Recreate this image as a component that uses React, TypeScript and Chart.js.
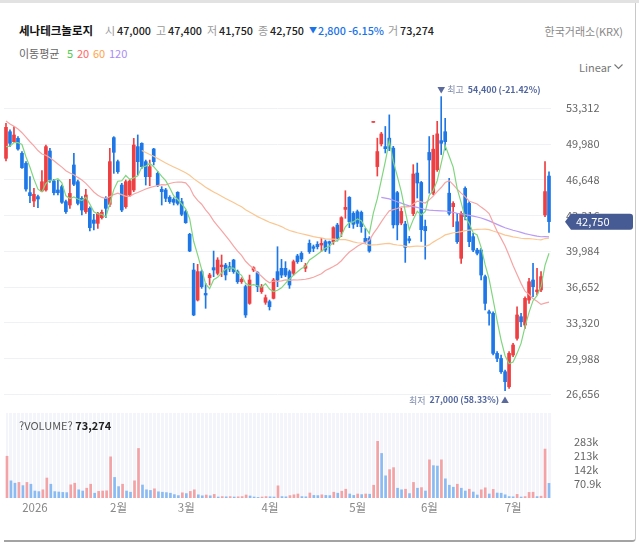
import React, { useEffect, useRef } from 'react';
import { Chart, registerables } from 'chart.js';

Chart.register(...registerables);

const FONT = '"Noto Sans CJK KR", "Noto Sans", sans-serif';

// ---- categories: trading days per month ----
const monthDays: [string, number[]][] = [
  ['2025-12', [19, 22, 23, 24, 26, 29, 30]],
  ['2026-01', [2, 5, 6, 7, 8, 9, 12, 13, 14, 15, 16, 19, 20, 21, 22, 23, 26, 27, 28, 29, 30]],
  ['2026-02', [2, 3, 4, 5, 6, 9, 10, 11, 12, 13, 19, 20, 23, 24, 25, 26, 27]],
  ['2026-03', [3, 4, 5, 6, 9, 10, 11, 12, 13, 16, 17, 18, 19, 20, 23, 24, 25, 26, 27, 30, 31]],
  ['2026-04', [1, 2, 3, 6, 7, 8, 9, 10, 13, 14, 15, 16, 17, 20, 21, 22, 23, 24, 27, 28, 29, 30]],
  ['2026-05', [4, 6, 7, 8, 11, 12, 13, 14, 15, 18, 19, 20, 21, 22, 26, 27, 28, 29]],
  ['2026-06', [1, 2, 4, 5, 8, 9, 10, 11, 12, 15, 16, 17, 18, 19, 22, 23, 24, 25, 26, 29, 30]],
  ['2026-07', [1, 2, 3, 6, 7, 8, 9, 10, 13, 14]],
];
const dates: string[] = monthDays.flatMap(([m, ds]) => ds.map((d) => `${m}-${String(d).padStart(2, '0')}`));

// ---- series ----
const opens = [
  48650, 51130, 50200, 50510, 49120, 48180, 45450, 44670, 45080, 45600,
  45700, 49330, 46540, 45700, 46010, 44610, 44300, 48030, 46470, 44920,
  43680, 43990, 42900, 42590, 43120, 44920, 44360, 50580, 48340, 46160,
  44140, 45230, 45700, 49740, 50050, 48340, 46940, 49520, 47250, 45760,
  45700, 45010, 44820, 45480, 44610, 43680, 41570, 38240, 35440, 38090,
  36060, 37520, 38460, 37930, 38550, 38700, 38550, 39170, 38090, 37150,
  36690, 35130, 38240, 37990, 36220, 35230, 35290, 35600, 38090, 38400,
  38400, 38090, 37930, 39550, 39790, 38400, 40730, 40410, 40630, 40570,
  40880, 40880, 40880, 42430, 41810, 43890, 45010, 43520, 43680, 43610,
  41190, 41190, 52000, 47880, 50000, 49740, 50530, 49600, 45450, 42620,
  42520, 41150, 43500, 47280, 46400, 42300, 49200, 45400, 47580, 50300,
  51130, 45400, 44140, 42740, 39330, 45850, 44450, 41350, 40100, 40100,
  37620, 34350, 34200, 30470, 30000, 28760, 27360, 30320, 31870, 33890,
  33110, 35440, 37310, 36220, 36380, 43370, 47000,
];
const highs = [
  51910, 51300, 51600, 50670, 49270, 48340, 46940, 45850, 45230, 47500,
  49890, 49580, 46690, 46630, 46160, 44760, 46690, 49120, 46630, 45080,
  45760, 44140, 43430, 43620, 43830, 45080, 49580, 50670, 48490, 46320,
  46630, 46700, 50510, 50830, 50100, 48490, 48490, 49580, 47410, 46010,
  45850, 45170, 44980, 45540, 44920, 43830, 41660, 38860, 38770, 38240,
  37000, 37930, 40010, 39390, 39640, 38860, 38960, 39240, 38240, 37520,
  36840, 37770, 38550, 38090, 36900, 35910, 35440, 37460, 40410, 39230,
  39020, 38240, 39170, 39700, 39950, 38860, 41040, 40570, 40880, 41190,
  41040, 40940, 42280, 42590, 43210, 45630, 45080, 43680, 43830, 43740,
  42120, 41350, 52000, 50530, 51070, 51620, 52700, 49770, 45570, 44020,
  42780, 41380, 48060, 48210, 46500, 42900, 50680, 50800, 52100, 54400,
  52380, 46780, 44610, 43520, 43680, 46000, 44610, 41660, 40260, 40260,
  37770, 34510, 34350, 30630, 30320, 28920, 30630, 31400, 34820, 34200,
  35750, 37460, 38860, 38400, 38090, 48340, 47400,
];
const lows = [
  48400, 49740, 50150, 49400, 47700, 45600, 44510, 44140, 44050, 45540,
  45600, 46410, 45230, 45230, 44450, 43520, 43990, 46100, 44300, 43370,
  43520, 41880, 41970, 42120, 42990, 43120, 44140, 47250, 47250, 43680,
  43990, 45100, 45540, 47100, 47700, 46160, 46100, 48030, 46010, 44300,
  44610, 44450, 44300, 44300, 43300, 42590, 39950, 33980, 35350, 36530,
  34670, 36840, 37620, 37780, 37620, 37310, 38090, 37930, 36990, 36990,
  33820, 35040, 38090, 36220, 36060, 35040, 34510, 35540, 36690, 37520,
  37620, 36530, 37770, 38860, 39020, 38090, 39790, 39950, 40200, 39950,
  39950, 39790, 40630, 40940, 41350, 43060, 42190, 42120, 42280, 41750,
  40730, 39890, 52000, 47000, 49800, 49150, 49360, 42150, 41050, 42460,
  38950, 40760, 43300, 44950, 40900, 39250, 45400, 45250, 47430, 49000,
  49420, 43360, 42280, 40720, 38860, 42900, 40410, 39950, 39640, 37310,
  34510, 33110, 30320, 29700, 28610, 27000, 27210, 30160, 31710, 32960,
  32800, 35130, 35750, 35910, 36220, 43210, 41750,
];
const closes = [
  51540, 50050, 50820, 49520, 47780, 45790, 45170, 45290, 44860, 46470,
  49740, 46630, 45450, 45450, 44550, 43680, 45380, 46230, 44450, 43830,
  45230, 42190, 42590, 43520, 43620, 43990, 48340, 49210, 47410, 43830,
  46470, 46540, 49890, 48340, 47870, 46940, 47870, 48340, 46160, 45540,
  44920, 44610, 44550, 44450, 43430, 42650, 40010, 34050, 38090, 36690,
  35910, 37780, 38240, 39170, 38700, 37780, 38340, 38090, 37150, 37370,
  34050, 37310, 38460, 36690, 36690, 35660, 34820, 37310, 37310, 37770,
  37770, 36840, 39020, 39020, 39270, 38640, 39950, 40260, 40410, 40730,
  40100, 40730, 42190, 41190, 43120, 44080, 42740, 42500, 42590, 42280,
  40880, 40010, 52000, 49280, 50920, 49550, 49600, 42450, 42450, 43700,
  40350, 40990, 47190, 46350, 42000, 41900, 48500, 49500, 50930, 50050,
  50200, 43520, 44450, 40880, 43520, 43210, 40880, 40100, 39800, 37770,
  35130, 34200, 30470, 30000, 28760, 27830, 30470, 31250, 34050, 33420,
  35600, 37150, 36690, 36380, 37620, 45550, 42750,
];
const volumes = [
  209000, 86000, 74000, 78000, 62000, 78000, 69000, 35000, 32000, 41000,
  100000, 69000, 32000, 30000, 28000, 27000, 66000, 74000, 41000, 35000,
  49000, 69000, 24000, 33000, 35000, 36000, 206000, 103000, 57000, 69000,
  35000, 29000, 86000, 248000, 65000, 41000, 38000, 46000, 31000, 29000,
  27000, 24000, 17000, 12000, 26000, 22000, 33000, 41000, 16000, 11000,
  15000, 11000, 18000, 5000, 7000, 6000, 7000, 5000, 6000, 7000,
  15000, 10000, 5000, 3000, 5000, 7000, 6000, 5000, 61000, 7000,
  6000, 12000, 16000, 20000, 7000, 6000, 25000, 13000, 12000, 16000,
  13000, 12000, 29000, 24000, 34000, 44000, 20000, 13000, 20000, 17000,
  20000, 19000, 64000, 283600, 223000, 111000, 142000, 152000, 49000, 41000,
  44000, 22000, 78000, 49000, 52000, 35000, 191000, 162000, 160000, 191000,
  96000, 64000, 54000, 69000, 49000, 35000, 44000, 30000, 15000, 41000,
  51000, 20000, 43000, 25000, 24000, 16000, 7000, 6000, 18000, 5000,
  7000, 28000, 29000, 7000, 9000, 245000, 73274,
];
// sessions before the first visible one (needed by the moving averages)
const priorCloses = [
  58000, 58700, 58300, 59000, 58400, 57300, 55800, 55000, 54400, 54800,
  54200, 53600, 53100, 53500, 52800, 52100, 51500, 51000, 51300, 50500,
  50300, 49800, 49200, 49500, 48640,
];

// ---- axes ----
const priceTicks = [26656, 29988, 33320, 36652, 39984, 43316, 46648, 49980, 53312];
const priceMin = 25659;
const priceMax = 55391;
const volumeTicks = [70900, 141800, 212700, 283600];
const volumeTickLabels = ['70.9k', '142k', '213k', '283k'];

const maPeriods = [5, 20, 60, 120];
const maColors = ['#7fd67f', '#f6a5a5', '#fbc691', '#b99bf5'];
const maLabelColors = ['#4ccb4c', '#ff6464', '#ffa24a', '#a98bf7'];

const UP = '#ee3f42';
const DOWN = '#1d77e6';
const VOL_UP = '#f3a2a5';
const VOL_DOWN = '#8bbbf3';

const PAD = 24; // layout padding >= half tick label + tick padding

const fmt = (n: number) => Math.round(n).toLocaleString('en-US');

function movingAverage(period: number): (number | null)[] {
  const all = priorCloses.concat(closes);
  const off = priorCloses.length;
  return closes.map((_, i) => {
    const end = off + i;
    if (end + 1 < period) return null;
    let s = 0;
    for (let k = end - period + 1; k <= end; k++) s += all[k];
    return s / period;
  });
}

function monthLabel(i: number): string {
  if (i === 0) return '';
  const m = dates[i].slice(5, 7);
  if (m === dates[i - 1].slice(5, 7)) return '';
  return m === '01' ? dates[i].slice(0, 4) : `${parseInt(m, 10)}월`;
}

const candleColors = closes.map((c, i) => (c >= opens[i] ? UP : DOWN));
const volumeColors = volumes.map((v, i) => (i === 0 || v > volumes[i - 1] ? VOL_UP : VOL_DOWN));

const markerPlugin = {
  id: 'markers',
  afterDraw(chart: any) {
    const { ctx, chartArea } = chart;
    const xs = chart.scales.x;
    const ys = chart.scales.y;
    let hi = 0;
    let lo = 0;
    highs.forEach((h, i) => { if (h > highs[hi]) hi = i; });
    lows.forEach((l, i) => { if (l < lows[lo]) lo = i; });
    const lastClose = closes[closes.length - 1];
    const pct = (r: number) => `${(r * 100).toFixed(2)}%`;
    ctx.save();
    ctx.textBaseline = 'middle';
    // high marker
    const hx = xs.getPixelForValue(hi);
    const hy = ys.getPixelForValue(highs[hi]) - 7;
    ctx.fillStyle = '#5a6a9c';
    ctx.font = `8px ${FONT}`;
    ctx.textAlign = 'center';
    ctx.fillText('▼', hx, hy);
    ctx.textAlign = 'left';
    ctx.font = `9px ${FONT}`;
    ctx.fillStyle = '#7c89ab';
    ctx.fillText('최고', hx + 6, hy);
    const w1 = ctx.measureText('최고').width;
    ctx.font = `600 8.8px ${FONT}`;
    ctx.fillStyle = '#53679f';
    ctx.fillText(`${fmt(highs[hi])} (${pct(lastClose / highs[hi] - 1)})`, hx + 6 + w1 + 4, hy);
    // low marker
    const lx = xs.getPixelForValue(lo);
    const ly = ys.getPixelForValue(lows[lo]) + 9.5;
    ctx.fillStyle = '#5a6a9c';
    ctx.font = `8px ${FONT}`;
    ctx.textAlign = 'center';
    ctx.fillText('▲', lx, ly);
    ctx.textAlign = 'right';
    ctx.font = `600 8.8px ${FONT}`;
    ctx.fillStyle = '#53679f';
    const lowText = `${fmt(lows[lo])} (${pct(lastClose / lows[lo] - 1)})`;
    ctx.fillText(lowText, lx - 6, ly);
    const w2 = ctx.measureText(lowText).width;
    ctx.font = `9px ${FONT}`;
    ctx.fillStyle = '#7c89ab';
    ctx.fillText('최저', lx - 6 - w2 - 4, ly);
    // last price tag
    const ty = ys.getPixelForValue(lastClose);
    const tip = chartArea.right + 14;
    const right = chart.width - 6;
    const h = 8;
    ctx.fillStyle = '#465a93';
    ctx.beginPath();
    ctx.moveTo(tip, ty);
    ctx.lineTo(tip + 6, ty - h);
    ctx.lineTo(right - 3, ty - h);
    ctx.quadraticCurveTo(right, ty - h, right, ty - h + 3);
    ctx.lineTo(right, ty + h - 3);
    ctx.quadraticCurveTo(right, ty + h, right - 3, ty + h);
    ctx.lineTo(tip + 6, ty + h);
    ctx.closePath();
    ctx.fill();
    ctx.fillStyle = '#ffffff';
    ctx.font = `11px ${FONT}`;
    ctx.textAlign = 'left';
    ctx.fillText(fmt(lastClose), tip + 11, ty + 0.5);
    ctx.restore();
  },
};

const volumeBgPlugin = {
  id: 'volBg',
  beforeDraw(chart: any) {
    const { ctx, chartArea } = chart;
    ctx.save();
    ctx.fillStyle = '#f3f5fa';
    ctx.fillRect(chartArea.left, chartArea.top, chartArea.right - chartArea.left, chartArea.bottom - chartArea.top);
    ctx.restore();
  },
};

function PriceChart() {
  const ref = useRef<HTMLCanvasElement>(null);
  useEffect(() => {
    if (!ref.current) return;
    const lineSets = maPeriods.map((p, k) => ({
      type: 'line' as const,
      label: `MA${p}`,
      data: movingAverage(p),
      borderColor: maColors[k],
      borderWidth: 1.2,
      pointRadius: 0,
      tension: 0,
      order: k,
    }));
    const chart = new Chart(ref.current, {
      type: 'bar',
      data: {
        labels: dates,
        datasets: [
          ...lineSets,
          {
            type: 'bar',
            label: 'body',
            data: opens.map((o, i) => [o, closes[i]]) as any,
            backgroundColor: candleColors,
            barThickness: 3,
            minBarLength: 1,
            grouped: false,
            order: 5,
          },
          {
            type: 'bar',
            label: 'wick',
            data: lows.map((l, i) => [l, highs[i]]) as any,
            backgroundColor: candleColors,
            barThickness: 1,
            grouped: false,
            order: 6,
          },
        ] as any,
      },
      options: {
        animation: false,
        responsive: false,
        layout: { padding: { top: PAD, bottom: PAD, left: 0, right: 0 } },
        plugins: { legend: { display: false }, tooltip: { enabled: false } },
        scales: {
          x: { display: false, offset: true },
          y: {
            position: 'right',
            min: priceMin,
            max: priceMax,
            afterBuildTicks: (s: any) => { s.ticks = priceTicks.map((v) => ({ value: v })); },
            afterFit: (s: any) => { s.width = 88; },
            grid: { color: '#eff1f5', drawTicks: false },
            border: { display: false },
            ticks: {
              padding: 15,
              color: '#666',
              font: { size: 11, family: FONT },
              callback: (v: any) => fmt(Number(v)),
            },
          },
        },
      } as any,
      plugins: [markerPlugin],
    });
    return () => chart.destroy();
  }, []);
  // chart area: y 86..405, x 4..551
  return <canvas ref={ref} width={635} height={319 + 2 * PAD} style={{ position: 'absolute', left: 4, top: 86 - PAD }} />;
}

function VolumeChart() {
  const ref = useRef<HTMLCanvasElement>(null);
  useEffect(() => {
    if (!ref.current) return;
    const maxV = Math.max(...volumes);
    const chart = new Chart(ref.current, {
      type: 'bar',
      data: {
        labels: dates,
        datasets: [{ label: 'volume', data: volumes, backgroundColor: volumeColors, barThickness: 2 }],
      },
      options: {
        animation: false,
        responsive: false,
        layout: { padding: { top: PAD, bottom: 0, left: 0, right: 0 } },
        plugins: { legend: { display: false }, tooltip: { enabled: false } },
        scales: {
          x: {
            offset: true,
            afterFit: (s: any) => { s.height = PAD; },
            grid: { color: 'rgba(255,255,255,0.95)', lineWidth: 1, drawTicks: false, offset: true },
            border: { display: false },
            ticks: {
              autoSkip: false,
              maxRotation: 0,
              padding: 3,
              color: '#888',
              font: { size: 11.5, family: FONT },
              callback: (_v: any, idx: number) => monthLabel(idx),
            },
          },
          y: {
            position: 'right',
            min: 0,
            max: maxV * 1.5,
            afterBuildTicks: (s: any) => { s.ticks = volumeTicks.map((v) => ({ value: v })); },
            afterFit: (s: any) => { s.width = 88; },
            grid: { display: false },
            border: { display: false },
            ticks: {
              padding: 15,
              color: '#666',
              font: { size: 11, family: FONT },
              callback: (v: any) => volumeTickLabels[volumeTicks.indexOf(Number(v))] ?? '',
            },
          },
        },
      } as any,
      plugins: [volumeBgPlugin],
    });
    return () => chart.destroy();
  }, []);
  // chart area: y 413..498
  return <canvas ref={ref} width={635} height={PAD + 85 + PAD} style={{ position: 'absolute', left: 4, top: 413 - PAD }} />;
}

function T(props: { x: number; y: number; color?: string; size?: number; bold?: boolean; weight?: number; children: React.ReactNode; right?: boolean }) {
  const { x, y, color = '#333', size = 11, bold, weight, children, right } = props;
  const style: React.CSSProperties = {
    position: 'absolute',
    top: y - 8,
    lineHeight: '16px',
    fontSize: size,
    color,
    fontWeight: bold ? 700 : weight ?? 400,
    whiteSpace: 'nowrap',
  };
  if (right) style.right = 639 - x; else style.left = x;
  return <div style={style}>{children}</div>;
}

export default function App() {
  const n = closes.length - 1;
  const prev = closes[n - 1];
  const diff = closes[n] - prev;
  const pct = (diff / prev) * 100;
  const arrow = diff < 0 ? '▼' : '▲';
  const chColor = diff < 0 ? '#1a73e8' : '#e53935';
  return (
    <div style={{ position: 'fixed', left: 0, top: 0, width: 639, height: 546, background: '#fff', overflow: 'hidden', fontFamily: FONT }}>
      <div style={{ position: 'absolute', left: 0, top: 0, width: 639, height: 3, background: '#e2e2e2' }} />
      <div style={{ position: 'absolute', left: 4, top: 3, width: 631, height: 537, borderRight: '1px solid #c8c8c8', borderBottom: '2px solid #a3a3a3', borderBottomRightRadius: 4 }} />

      <T x={19} y={30} color="#111" bold size={11.5}>세나테크놀로지</T>
      <T x={105} y={30} color="#999">시</T>
      <T x={117} y={30} color="#222" weight={500} size={10.8}>{fmt(opens[n])}</T>
      <T x={156} y={30} color="#999">고</T>
      <T x={168} y={30} color="#222" weight={500} size={10.8}>{fmt(highs[n])}</T>
      <T x={207} y={30} color="#999">저</T>
      <T x={219} y={30} color="#222" weight={500} size={10.8}>{fmt(lows[n])}</T>
      <T x={258} y={30} color="#999">종</T>
      <T x={270} y={30} color="#222" weight={500} size={10.8}>{fmt(closes[n])}</T>
      <T x={309} y={30} color={chColor} size={8}>{arrow}</T>
      <T x={318} y={30} color={chColor} weight={500} size={10.8}>{`${fmt(Math.abs(diff))} ${diff < 0 ? '-' : ''}${Math.abs(pct).toFixed(2)}%`}</T>
      <T x={388} y={30} color="#999">거</T>
      <T x={400} y={30} color="#222" weight={500} size={10.8}>{fmt(volumes[n])}</T>
      <T x={623} y={31} color="#888" right>한국거래소(KRX)</T>

      <T x={19} y={53} color="#666" size={11}>이동평균</T>
      <T x={67} y={53} color={maLabelColors[0]} size={11}>{String(maPeriods[0])}</T>
      <T x={77} y={53} color={maLabelColors[1]} size={11}>{String(maPeriods[1])}</T>
      <T x={93} y={53} color={maLabelColors[2]} size={11}>{String(maPeriods[2])}</T>
      <T x={109} y={53} color={maLabelColors[3]} size={11}>{String(maPeriods[3])}</T>

      <T x={579} y={67} color="#777" size={11}>Linear</T>
      <svg style={{ position: 'absolute', left: 614, top: 64 }} width={9} height={6}>
        <polyline points="0.5,0.5 4.5,4.5 8.5,0.5" fill="none" stroke="#777" strokeWidth={1.1} />
      </svg>

      <PriceChart />
      <VolumeChart />

      <div style={{ position: 'absolute', left: 19, top: 417, lineHeight: '16px', fontSize: 11, whiteSpace: 'nowrap' }}>
        <span style={{ color: '#555' }}>?VOLUME? </span>
        <span style={{ color: '#222', fontWeight: 700 }}>{fmt(volumes[n])}</span>
      </div>
    </div>
  );
}
